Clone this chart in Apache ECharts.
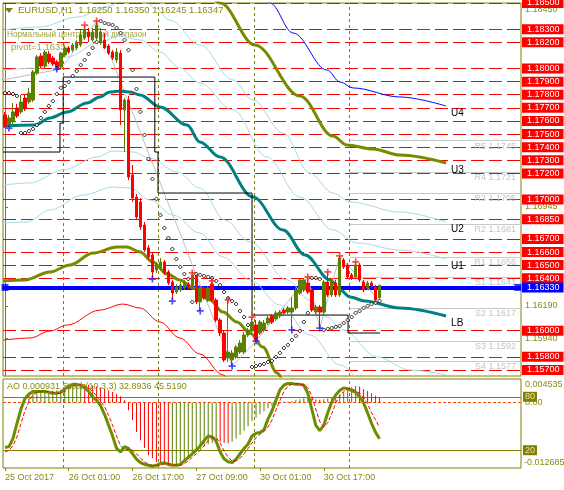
<!DOCTYPE html>
<html><head><meta charset="utf-8">
<script src="https://cdn.jsdelivr.net/npm/echarts@6/dist/echarts.min.js"></script>
<style>html,body{margin:0;padding:0;background:#fff}#c{width:564px;height:490px}</style>
</head><body><div id="c"></div>
<script>
// ---------- data ----------
const opens=[1.17646,1.17577,1.17592,1.17699,1.17669,1.17775,1.17745,1.17760,1.17966,1.18096,
 1.18019,1.18111,1.18080,1.18050,1.18012,1.18103,1.18157,1.18141,1.18157,1.18180,
 1.18233,1.18279,1.18218,1.18233,1.18195,1.18218,1.18172,1.18126,1.18065,1.18118,
 1.17684,1.17760,1.17188,1.17020,1.16982,1.16806,1.16631,1.16577,1.16463,1.16478,
 1.16524,1.16448,1.16371,1.16295,1.16310,1.16326,1.16356,1.16326,1.16425,1.16219,
 1.16326,1.16234,1.16356,1.16234,1.16081,1.15982,1.15791,1.15776,1.15799,1.15837,
 1.15837,1.15967,1.15997,1.16043,1.15982,1.16005,1.16058,1.16112,1.16089,1.16112,
 1.16157,1.16142,1.16142,1.16173,1.16287,1.16310,1.16364,1.16310,1.16142,1.16180,
 1.16142,1.16371,1.16272,1.16364,1.16272,1.16539,1.16501,1.16425,1.16410,1.16501,
 1.16371,1.16326,1.16364,1.16333,1.16250];
const closes=[1.17562,1.17623,1.17669,1.17638,1.17745,1.17692,1.17813,1.17974,1.18088,1.18019,
 1.18126,1.18050,1.18035,1.18004,1.18118,1.18157,1.18126,1.18180,1.18202,1.18256,
 1.18294,1.18241,1.18279,1.18332,1.18279,1.18157,1.18118,1.18080,1.18126,1.17684,
 1.17760,1.17172,1.17012,1.16867,1.16791,1.16615,1.16562,1.16448,1.16501,1.16524,
 1.16440,1.16364,1.16287,1.16333,1.16348,1.16371,1.16326,1.16425,1.16219,1.16326,
 1.16249,1.16326,1.16234,1.16081,1.15982,1.15776,1.15837,1.15829,1.15875,1.15905,
 1.15967,1.16005,1.16066,1.15928,1.16066,1.16058,1.16096,1.16066,1.16135,1.16142,
 1.16135,1.16173,1.16173,1.16310,1.16387,1.16387,1.16295,1.16157,1.16180,1.16142,
 1.16371,1.16272,1.16387,1.16272,1.16554,1.16486,1.16410,1.16402,1.16501,1.16387,
 1.16310,1.16364,1.16341,1.16234,1.16347];
const highs=[1.17669,1.17646,1.17737,1.17730,1.17798,1.17798,1.17852,1.17989,1.18103,1.18118,
 1.18141,1.18134,1.18096,1.18065,1.18126,1.18172,1.18172,1.18195,1.18218,1.18294,
 1.18324,1.18309,1.18309,1.18363,1.18309,1.18271,1.18187,1.18141,1.18157,1.18141,
 1.17775,1.17791,1.17264,1.17043,1.17012,1.16829,1.16654,1.16600,1.16524,1.16554,
 1.16539,1.16463,1.16387,1.16356,1.16371,1.16387,1.16371,1.16448,1.16440,1.16348,
 1.16341,1.16341,1.16387,1.16249,1.16096,1.16005,1.16234,1.15852,1.15890,1.15928,
 1.15990,1.16020,1.16104,1.16081,1.16081,1.16081,1.16112,1.16127,1.16150,1.16157,
 1.16173,1.16188,1.16257,1.16326,1.16402,1.16402,1.16410,1.16326,1.16196,1.16196,
 1.16387,1.16448,1.16402,1.16387,1.16570,1.16554,1.16516,1.16440,1.16524,1.16516,
 1.16387,1.16379,1.16379,1.16348,1.16350];
const lows=[1.17546,1.17554,1.17577,1.17623,1.17653,1.17676,1.17730,1.17745,1.17951,1.18004,
 1.18004,1.18035,1.18019,1.17989,1.17996,1.18088,1.18111,1.18126,1.18141,1.18164,
 1.18218,1.18202,1.18202,1.18218,1.18180,1.18149,1.18103,1.18065,1.18042,1.17569,
 1.17363,1.17149,1.16982,1.16844,1.16768,1.16600,1.16539,1.16402,1.16440,1.16463,
 1.16425,1.16348,1.16234,1.16280,1.16295,1.16310,1.16310,1.16310,1.16203,1.16150,
 1.16234,1.16219,1.16219,1.16066,1.15959,1.15760,1.15760,1.15730,1.15783,1.15822,
 1.15822,1.15951,1.15982,1.15913,1.15967,1.15990,1.16043,1.16051,1.16074,1.16096,
 1.16119,1.16127,1.16005,1.16157,1.16272,1.16295,1.16280,1.16142,1.16127,1.16020,
 1.16127,1.16257,1.16257,1.16257,1.16257,1.16471,1.16394,1.16387,1.16394,1.16371,
 1.16295,1.16310,1.16326,1.16219,1.16245];
const sar=[1.17813,1.17813,1.17806,1.17791,1.17508,1.17508,1.17523,1.17539,1.17569,1.17623,
 1.17669,1.17714,1.17752,1.17806,1.17852,1.17867,1.17897,1.17943,1.17981,1.18027,
 1.18065,1.18111,1.18157,1.18202,1.18363,1.18347,1.18340,1.18332,1.18309,1.18271,
 1.18218,1.18141,1.17989,1.17844,1.17669,1.17493,1.17310,1.17157,1.17005,1.16882,
 1.16783,1.16707,1.16623,1.16547,1.16486,1.16432,1.16394,1.16219,1.16432,1.16425,
 1.16417,1.16410,1.16402,1.16379,1.16348,1.16295,1.16249,1.16226,1.16203,1.16150,
 1.16104,1.16043,1.15723,1.15730,1.15738,1.15746,1.15761,1.15769,1.15799,1.15830,
 1.15868,1.15891,1.15929,1.15960,1.15998,1.16066,1.16135,1.16402,1.16402,1.16394,
 1.16005,1.16013,1.16020,1.16028,1.16036,1.16058,1.16081,1.16104,1.16135,1.16150,
 1.16173,1.16188,1.16203,1.16211,1.16226];
const fractalLowIdx=[1,13,37,42,49,57,63,72,79];
const fractalLowVal=[1.17546,1.17996,1.16394,1.16226,1.16150,1.15730,1.15921,1.16005,1.16020];
const fractalHighIdx=[20,23,47,52,56,62,76,81,84,88];
const fractalHighVal=[1.18332,1.18363,1.16440,1.16379,1.16234,1.16104,1.16410,1.16448,1.16570,1.16524];

// channel lines: [bar position, price]
const maLB=[[-0.5,1.17562],[7.5,1.17569],[11.3,1.17623],[15.6,1.17669],[20.6,1.17737],[23.8,1.17783],[26.3,1.17821],[28.9,1.17829],[31.4,1.17821],[33.9,1.17798],[38.9,1.17707],[45.7,1.17569],[48.9,1.17440],[54.0,1.17325],[62.2,1.17020],[69.8,1.16768],[75.3,1.16577],[81.6,1.16387],[84.1,1.16310],[86.6,1.16257],[90.3,1.16226],[99.1,1.16173],[110.7,1.16112]];
const bandU1=[[-0.5,1.17989],[8.8,1.18004],[15.6,1.18088],[23.8,1.18202],[28.9,1.18248],[33.9,1.18218],[38.9,1.18126],[43.9,1.18004],[48.9,1.17890],[57.2,1.17684],[65.7,1.17325],[74.0,1.17020],[82.3,1.16768],[88.3,1.16669],[99.1,1.16615],[110.7,1.16547]];
const bandU2=[[-0.5,1.18294],[8.8,1.18317],[18.1,1.18393],[26.3,1.18477],[30.1,1.18546],[33.9,1.18561],[37.6,1.18462],[41.4,1.18370],[48.9,1.18180],[57.2,1.17913],[62.2,1.17760],[69.8,1.17508],[76.5,1.17203],[82.3,1.17050],[86.6,1.16982],[99.1,1.16905],[110.7,1.16829]];
const bandU3=[[51.9,1.18561],[54.0,1.18500],[62.7,1.18180],[74.0,1.17791],[82.3,1.17485],[85.8,1.17417],[92.3,1.17386],[99.1,1.17340],[110.7,1.17279]];
const bandU4=[[65.2,1.18546],[66.5,1.18500],[72.3,1.18271],[80.8,1.17989],[84.1,1.17897],[87.3,1.17852],[99.1,1.17783],[110.7,1.17714]];
const bandL1=[[-0.5,1.17111],[6.3,1.17127],[14.6,1.17226],[23.1,1.17325],[27.1,1.17371],[32.1,1.17363],[36.4,1.17317],[43.2,1.17211],[48.9,1.17088],[55.2,1.16844],[61.5,1.16676],[70.8,1.16387],[76.5,1.16234],[80.8,1.16104],[84.8,1.16005],[93.4,1.15799],[101.6,1.15700],[110.7,1.15662]];
const bandL2=[[-0.5,1.16821],[5.5,1.16829],[11.3,1.16921],[19.6,1.17035],[27.1,1.17096],[31.4,1.17088],[36.4,1.16997],[42.2,1.16882],[48.9,1.16745],[54.7,1.16562],[61.5,1.16387],[69.0,1.16196],[76.5,1.15967],[84.1,1.15738],[89.1,1.15608]];
const bandL3=[[-0.5,1.16379],[5.0,1.16387],[11.3,1.16448],[16.3,1.16501],[22.1,1.16592],[28.1,1.16638],[30.6,1.16638],[33.9,1.16600],[37.1,1.16524],[40.7,1.16432],[43.9,1.16387],[47.2,1.16326],[51.4,1.16234],[54.7,1.16142],[58.2,1.16066],[61.5,1.15982],[64.7,1.15875],[68.3,1.15677],[69.5,1.15624]];
const bandL4=[[-0.5,1.15928],[6.3,1.15944],[11.3,1.15997],[15.6,1.16043],[23.8,1.16157],[29.6,1.16203],[33.9,1.16173],[38.9,1.16066],[43.9,1.15944],[48.9,1.15822],[54.7,1.15662],[56.5,1.15608]];
const zigzag=[[-0.5,1.17913],[14,1.17996],[23,1.18363],[57,1.15730],[63,1.15921],[76,1.16410],[79,1.16020],[84,1.16570],[94,1.16226]];
const dayRange=[[-0.5,1.17363],[13.8,1.17363],[13.8,1.17584],[14.6,1.17584],[14.6,1.17935],[37.6,1.17935],[37.6,1.17363],[38.4,1.17363],[38.4,1.17050],[62.0,1.17050],[62.0,1.16119],[86.1,1.16119],[86.1,1.15982],[94.1,1.15982]];

const redLevels=[1.185,1.183,1.182,1.180,1.179,1.178,1.177,1.176,1.175,1.174,1.173,1.172,1.170,1.1685,1.167,1.166,1.165,1.164,1.160,1.158,1.157];
const bid=1.16330;
const pivotNames=['R5','R4','R3','R2','R1','S1','S2','S3','S4'];
const pivotVals=[1.1745,1.1721,1.1705,1.1681,1.1656,1.1641,1.1617,1.1592,1.1577];
const axisPriceLabels=[1.1845,1.16945,1.1619,1.1594];
const daySep=[14.5,38.5,62.5,86.5];
const timeIdx=[0,16,32,48,64,80];
const timeText=['25 Oct 2017','26 Oct 01:00','26 Oct 17:00','27 Oct 09:00','30 Oct 01:00','30 Oct 17:00'];

const ao=[null,null,null,null,null,null,0.0019,0.0020,0.0021,0.00215,
 0.0022,0.00225,0.0023,0.00235,0.00245,0.0026,0.0029,0.0032,0.00345,0.00355,
 0.0035,0.0034,0.0033,0.0031,0.0029,0.0026,0.0023,0.0020,0.0016,0.0012,
 0.0004,-0.0015,-0.0034,-0.0057,-0.0073,-0.0088,-0.0102,-0.0108,-0.0115,-0.0119,
 -0.0121,-0.0122,-0.0121,-0.0119,-0.0116,-0.0112,-0.0107,-0.0101,-0.0095,-0.0090,
 -0.0085,-0.0081,-0.0078,-0.0075,-0.0076,-0.0078,-0.0079,-0.0076,-0.0070,-0.0063,
 -0.0055,-0.0046,-0.0036,-0.0029,-0.0023,-0.0017,-0.0011,-0.0007,-0.0004,-0.0002,
 0.0001,0.0002,0.0003,0.0005,0.0006,0.0009,0.0010,0.0008,0.0006,0.0005,
 0.0006,0.0008,0.0010,0.0012,0.0016,0.0020,0.0026,0.0030,0.0032,0.0031,
 0.0026,0.0022,0.0018,0.0013,0.000931];
const stochMain=[23,24,33,50,66,78,83,86,86,86,
 86,85,84,84,85,89,92,94,94,93,
 90,86,80,76,70,60,48,36,22,18,
 24,22,16,10,6,4,3,2,3,5,
 6,4,3,3,4,8,12,16,20,25,
 31,36,35,30,18,10,7,6,10,16,
 22,27,36,39,40,43,55,64,76,88,
 93,95,95,94,94,93,84,66,48,42,
 48,62,74,82,87,90,89,87,85,80,
 73,62,50,40,32.89];
const stochSignal=[18,20,25,35,50,64,75,82,85,86,
 86,86,85,84,84,86,89,92,93,94,
 92,90,86,81,75,69,59,48,36,25,
 21,21,20,16,11,7,4,3,3,3,
 5,5,4,3,3,5,8,12,16,20,
 25,31,34,34,28,19,12,8,8,11,
 16,22,28,34,38,41,46,54,65,76,
 86,92,94,95,94,94,90,81,66,52,
 46,51,61,73,81,86,89,89,87,84,
 79,72,62,54,45.52];
const stochLevels=[80,20];
const aoRange=[-0.012685,0.004535];

// ---------- chart ----------
const NCAT=130;
const cats=Array.from({length:NCAT},(_,i)=>String(i));
const FONT="'Liberation Sans', Arial, sans-serif";
const OLIVE='#808000', BULL='#5b7f00', BEAR='#ff0000', TXT='#8a8a14';
const timeMap={}; timeIdx.forEach((k,j)=>timeMap[k]=timeText[j]);
const isTime=(i)=>timeMap[i]!==undefined;

const candleData=opens.map((o,i)=>[o,closes[i],lows[i],highs[i]]);
const crossPath='path://M3,0H5V3H8V5H5V8H3V5H0V3H3Z';

const levelLines=redLevels.map(v=>({yAxis:v,lineStyle:{color:'#ff0000',width:1,type:[13,5]},
  label:{show:true,position:'end',formatter:v.toFixed(5),color:'#fff',backgroundColor:'#ff0000',padding:[1,4,0,5],fontSize:9,fontFamily:FONT,distance:1}}));
const bidLine={yAxis:bid,lineStyle:{color:'#0000ff',width:4,type:'solid'},
  label:{show:true,position:'end',formatter:bid.toFixed(5),color:'#fff',backgroundColor:'#0000ff',padding:[1,4,0,5],fontSize:9,fontFamily:FONT,distance:1}};
const pivotLines=pivotVals.map((v,k)=>[{coord:[daySep[3],v],name:pivotNames[k]+' '+v.toFixed(4),lineStyle:{color:'#c8c8c8',width:1,type:'solid'},
  label:{show:true,position:'insideEndBottom',formatter:'{b}',color:'#c4c4c4',fontSize:9,fontFamily:FONT,distance:[5,1]}},{coord:[NCAT-0.5,v]}]);
const sepLines=daySep.map(v=>({xAxis:v,lineStyle:{color:OLIVE,width:1,type:[3,3]},label:{show:false}}));

function band(name,data,color,width,lbl){
  const s={name,type:'line',xAxisIndex:1,yAxisIndex:0,data,smooth:0.35,smoothMonotone:'x',symbol:'none',
    lineStyle:{color,width},silent:true,z:2};
  if(lbl) s.endLabel={show:true,formatter:lbl,color:'#000',fontSize:10,fontFamily:FONT,offset:[0,7],distance:5};
  return s;
}

const option={
  animation:false,
  backgroundColor:'#ffffff',
  textStyle:{fontFamily:FONT},
  grid:[
    {left:3,top:3,width:518,height:373,show:true,borderColor:OLIVE,borderWidth:1,backgroundColor:'transparent',containLabel:false,outerBoundsMode:'none'},
    {left:3,top:379,width:518,height:89,show:true,borderColor:OLIVE,borderWidth:1,backgroundColor:'transparent',containLabel:false,outerBoundsMode:'none'}
  ],
  xAxis:[
    {type:'category',gridIndex:0,data:cats,show:false,boundaryGap:true},
    {type:'value',gridIndex:0,min:-0.5,max:NCAT-0.5,show:false},
    {type:'category',gridIndex:1,data:cats,boundaryGap:true,axisLine:{show:false},
      axisTick:{show:true,alignWithLabel:true,length:3,interval:(i)=>isTime(i),lineStyle:{color:OLIVE}},
      axisLabel:{show:true,interval:(i)=>isTime(i),formatter:(v,i)=>timeMap[i]||'',align:'left',color:TXT,fontSize:9,fontFamily:FONT,margin:5},
      splitLine:{show:false}},
    {type:'value',gridIndex:1,min:-0.5,max:NCAT-0.5,show:false}
  ],
  yAxis:[
    {type:'value',gridIndex:0,min:1.15654,max:1.185,position:'right',splitLine:{show:false},
      axisLine:{show:true,lineStyle:{color:OLIVE}},
      axisTick:{show:true,length:3,customValues:axisPriceLabels,lineStyle:{color:OLIVE}},
      axisLabel:{show:true,customValues:axisPriceLabels,formatter:v=>v.toFixed(5),color:TXT,fontSize:9,fontFamily:FONT,margin:4}},
    {type:'value',gridIndex:1,min:0,max:100,show:false},
    {type:'value',gridIndex:1,min:aoRange[0],max:aoRange[1],show:false}
  ],
  graphic:[
    {type:'polygon',z:10,shape:{points:[[5,8],[13,8],[9,13]]},style:{fill:OLIVE}},
    {type:'text',z:10,x:18,y:5,style:{text:'EURUSD,H1  1.16250 1.16350 1.16245 1.16347',fill:TXT,font:'9.5px '+FONT}},
    {type:'text',z:0,x:7,y:29,scaleX:0.86,style:{text:'Нормальный центральный диапазон',fill:'#a3a342',font:'9.5px '+FONT}},
    {type:'text',z:0,x:11,y:42,style:{text:'pivot=1.1633',fill:'#a3a342',font:'9.5px '+FONT}},
    {type:'text',z:10,x:7,y:382,style:{text:'AO 0.000931 Stoch(10,3,3) 32.8936 45.5190',fill:TXT,font:'9px '+FONT}},
    {type:'text',z:10,x:525,y:380,style:{text:aoRange[1].toFixed(6),fill:TXT,font:'9px '+FONT}},
    {type:'text',z:10,x:524,y:458,style:{text:aoRange[0].toFixed(6),fill:TXT,font:'9px '+FONT}}
  ],
  series:[
    {name:'zigzag',type:'line',xAxisIndex:1,yAxisIndex:0,data:zigzag,symbol:'none',lineStyle:{color:'#c0c0c0',width:1},silent:true,z:2,
      markLine:{silent:true,precision:6,symbol:['none','none'],z:1,label:{show:false},data:[...levelLines,...sepLines,...pivotLines,bidLine]}},
    band('L4',bandL4,'#ff0000',1),
    band('L2',bandL2,'#a8d8e6',1),
    band('L1',bandL1,'#a8d8e6',1),
    band('U1',bandU1,'#a8d8e6',1,'U1'),
    band('U2',bandU2,'#a8d8e6',1,'U2'),
    band('U4',bandU4,'#0000ff',1,'U4'),
    band('L3',bandL3,'#7a8a00',3),
    band('U3',bandU3,'#7a8a00',3,'U3'),
    band('LB',maLB,'#008080',3,'LB'),
    {name:'range',type:'line',xAxisIndex:1,yAxisIndex:0,data:dayRange,symbol:'none',lineStyle:{color:'#000',width:1},silent:true,z:2},
    {name:'bidEnds',type:'scatter',xAxisIndex:1,yAxisIndex:0,data:[[0,bid],[128.7,bid]],symbol:'rect',symbolSize:7,itemStyle:{color:'#0000ff'},silent:true,z:2},
    {name:'EURUSD',type:'candlestick',xAxisIndex:0,yAxisIndex:0,data:candleData,barWidth:3,
      itemStyle:{color:BULL,color0:BEAR,borderColor:BULL,borderColor0:BEAR,borderWidth:1},silent:true,z:3},
    {name:'SAR',type:'scatter',xAxisIndex:0,yAxisIndex:0,data:sar,symbol:'diamond',symbolSize:4,
      itemStyle:{color:'#ffffff',borderColor:'#000',borderWidth:1},silent:true,z:4},
    {name:'fracLow',type:'scatter',xAxisIndex:0,yAxisIndex:0,data:fractalLowIdx.map((k,j)=>[k,fractalLowVal[j]]),symbol:crossPath,symbolSize:7,
      itemStyle:{color:'#2020ff'},silent:true,z:5},
    {name:'fracHigh',type:'scatter',xAxisIndex:0,yAxisIndex:0,data:fractalHighIdx.map((k,j)=>[k,fractalHighVal[j]]),symbol:crossPath,symbolSize:7,
      itemStyle:{color:'#ff2020'},silent:true,z:5},
    // indicator pane
    {name:'sep2',type:'line',xAxisIndex:3,yAxisIndex:1,data:[[0,50]],symbol:'none',lineStyle:{opacity:0},silent:true,
      markLine:{silent:true,precision:4,symbol:['none','none'],z:1,label:{show:false},data:sepLines}},
    {name:'AO',type:'bar',xAxisIndex:2,yAxisIndex:2,data:ao,barWidth:1,silent:true,z:2,
      itemStyle:{color:(p)=>{const i=p.dataIndex;const prev=ao[i-1];return (prev==null||ao[i]>=prev)?BULL:BEAR;}},
      markLine:{silent:true,precision:6,symbol:['none','none'],z:1,
        data:[{yAxis:0,lineStyle:{color:'#ff4a00',width:1,type:[3,2]},label:{show:true,position:'end',formatter:'0.00',color:TXT,fontSize:9,fontFamily:FONT,distance:4}}]}},
    {name:'StochMain',type:'line',xAxisIndex:2,yAxisIndex:1,data:stochMain,symbol:'none',lineStyle:{color:'#6b8e00',width:3},silent:true,z:3,
      markLine:{silent:true,precision:4,symbol:['none','none'],z:1,
        data:stochLevels.map(v=>({yAxis:v,lineStyle:{color:OLIVE,width:1,type:'solid'},
          label:{show:true,position:'end',formatter:String(v),color:'#e6e6a0',backgroundColor:OLIVE,padding:[1,2,0,2],fontSize:9,fontFamily:FONT,distance:2}}))}},
    {name:'StochSignal',type:'line',xAxisIndex:2,yAxisIndex:1,data:stochSignal,symbol:'none',lineStyle:{color:'#ff0000',width:1,type:[4,2]},silent:true,z:3}
  ]
};
const chart=echarts.init(document.getElementById('c'),null,{renderer:'canvas',width:564,height:490});
chart.setOption(option);
</script></body></html>
